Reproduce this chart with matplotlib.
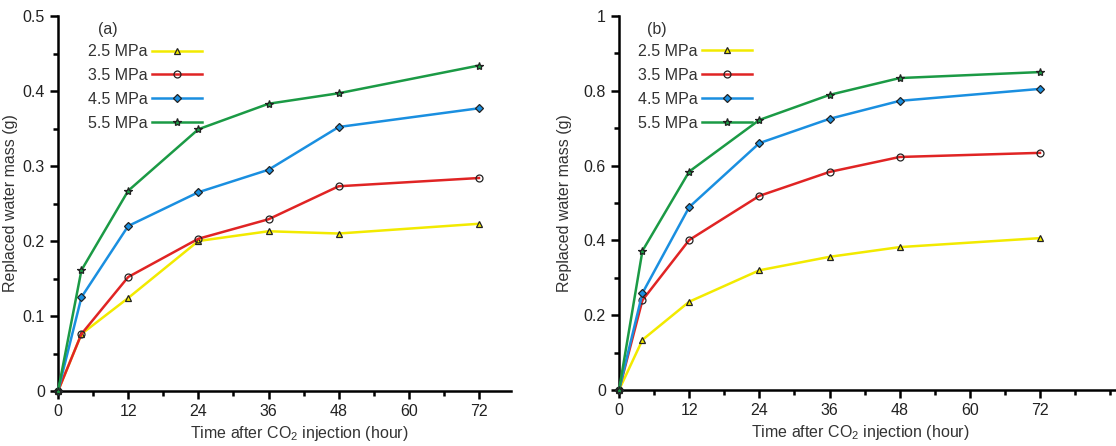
import matplotlib
matplotlib.use("Agg")
import matplotlib.pyplot as plt
from matplotlib.ticker import MultipleLocator, FixedLocator, FuncFormatter

plt.rcParams['font.family'] = ['Liberation Sans', 'DejaVu Sans']

# sampling times (hour)
horas = [0, 4, 12, 24, 36, 48, 72]
presiones = ["2.5 MPa", "3.5 MPa", "4.5 MPa", "5.5 MPa"]

# panel (a): replaced water mass (g)
masa_a_25 = [0, 0.076, 0.124, 0.200, 0.213, 0.210, 0.223]
masa_a_35 = [0, 0.076, 0.152, 0.203, 0.229, 0.273, 0.284]
masa_a_45 = [0, 0.125, 0.220, 0.265, 0.295, 0.352, 0.377]
masa_a_55 = [0, 0.161, 0.267, 0.349, 0.383, 0.397, 0.434]

# panel (b): replaced water mass (g)
masa_b_25 = [0, 0.134, 0.236, 0.320, 0.356, 0.382, 0.406]
masa_b_35 = [0, 0.240, 0.401, 0.519, 0.583, 0.623, 0.634]
masa_b_45 = [0, 0.259, 0.489, 0.660, 0.725, 0.773, 0.805]
masa_b_55 = [0, 0.372, 0.584, 0.722, 0.789, 0.834, 0.850]

colores = ["#f2ea00", "#e02424", "#1a8fe0", "#1b9a45"]
marcadores = ["^", "o", "D", "*"]
relleno = ["#f2ea00", "none", "#1a8fe0", "#1b9a45"]
tam_marcador = [5, 5, 4, 6]


def fmt_y(v, pos):
    if abs(v) < 1e-9:
        return "0"
    if abs(v - round(v)) < 1e-9:
        return "%d" % round(v)
    return ("%.1f" % v)


def dibujar(ax, series, ymax, paso, xmax, letra, leg_x, letra_x, ylab_x, xlab_x):
    for i, s in enumerate(series):
        ax.plot(horas, s, color=colores[i], lw=1.8, marker=marcadores[i],
                markersize=tam_marcador[i], markerfacecolor=relleno[i],
                markeredgecolor="#222222", markeredgewidth=0.9,
                label=presiones[i], clip_on=False, zorder=3)
    ax.set_xlim(0, xmax)
    ax.set_ylim(0, ymax)
    ax.spines["top"].set_visible(False)
    ax.spines["right"].set_visible(False)
    ax.spines["left"].set_linewidth(1.8)
    ax.spines["bottom"].set_linewidth(1.8)
    ax.xaxis.set_major_locator(FixedLocator([0, 12, 24, 36, 48, 60, 72]))
    ax.xaxis.set_minor_locator(MultipleLocator(6))
    ax.yaxis.set_major_locator(MultipleLocator(paso))
    ax.yaxis.set_minor_locator(MultipleLocator(paso / 2))
    ax.yaxis.set_major_formatter(FuncFormatter(fmt_y))
    ax.tick_params(which="major", direction="out", length=6, width=1.8,
                   labelsize=11.5, colors="black", labelcolor="#222222")
    ax.tick_params(which="minor", direction="out", length=3.5, width=1.8)
    ax.set_xlabel("Time after CO$_\\mathregular{2}$ injection (hour)",
                  fontsize=11.5, color="#333333")
    ax.set_ylabel("Replaced water mass (g)", fontsize=11.5, color="#333333")
    ax.xaxis.set_label_coords(xlab_x, -0.087)
    ax.yaxis.set_label_coords(ylab_x, 0.5)
    leg = ax.legend(loc="upper left", bbox_to_anchor=(leg_x, 0.925),
                    markerfirst=False, frameon=False, handlelength=3.1,
                    fontsize=11.5, labelspacing=0.56, handletextpad=0.3,
                    borderaxespad=0, borderpad=0)
    for t in leg.get_texts():
        t.set_color("#333333")
    ax.text(letra_x, 0.985, letra, transform=ax.transAxes, fontsize=11.5,
            color="#333333", va="top")


fig = plt.figure(figsize=(11.16, 4.46), dpi=100)
ax1 = fig.add_axes([0.052, 0.1233, 0.406, 0.8408])
ax2 = fig.add_axes([0.5547, 0.1256, 0.4453, 0.8386])

dibujar(ax1, [masa_a_25, masa_a_35, masa_a_45, masa_a_55], 0.5, 0.1, 77.5, "(a)",
        0.066, 0.088, -0.088, 0.532)
dibujar(ax2, [masa_b_25, masa_b_35, masa_b_45, masa_b_55], 1.0, 0.2, 85, "(b)",
        0.038, 0.057, -0.095, 0.485)

plt.savefig("out.png", dpi=100)
plt.close()
